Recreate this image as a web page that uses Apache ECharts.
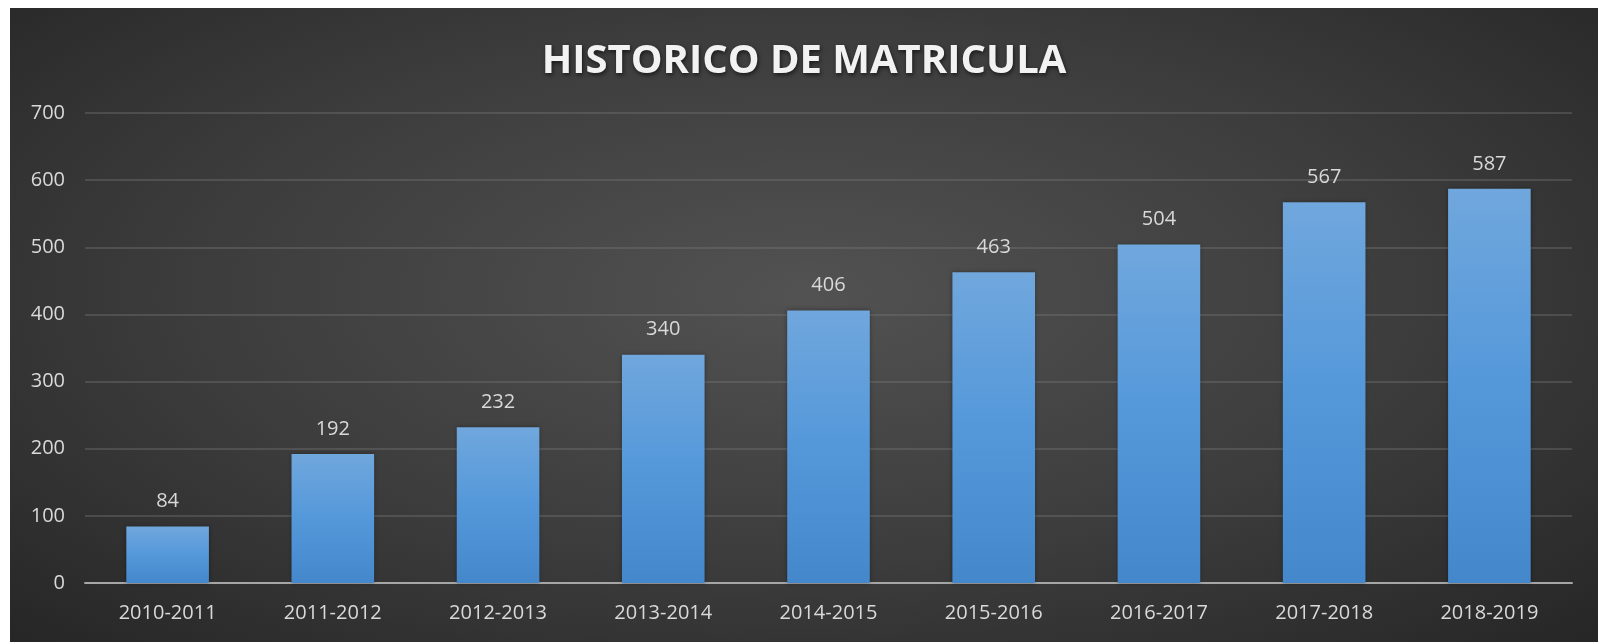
<!DOCTYPE html>
<html>
<head>
<meta charset="utf-8">
<script src="https://cdn.jsdelivr.net/npm/echarts@6/dist/echarts.min.js"></script>
<style>
    html, body { margin: 0; padding: 0; background: #ffffff; }
    #matricula {
        position: absolute;
        left: 10px; top: 8px;
        width: 1588px; height: 634px;
        background: radial-gradient(ellipse at 50% 45%, #525252 0%, #3c3c3c 55%, #262626 100%);
    }
</style>
</head>
<body>
<div id="matricula"></div>
<script>
// historico de matricula por ciclo escolar
var ciclos = ['2010-2011', '2011-2012', '2012-2013', '2013-2014', '2014-2015', '2015-2016', '2016-2017', '2017-2018', '2018-2019']
var alumnos = [84, 192, 232, 340, 406, 463, 504, 567, 587]
var ejeY = { min: 0, max: 700, interval: 100 }

var txt = '#d9d9d9'
var fuente = '"Open Sans", "DejaVu Sans", sans-serif'

var myChart = echarts.init(document.getElementById('matricula'))
myChart.setOption({
    backgroundColor: 'transparent',
    title: {
        text: 'HISTORICO DE MATRICULA',
        left: 'center',
        top: 29,
        textStyle: {
            color: '#f2f2f2',
            fontFamily: fuente,
            fontWeight: 'bold',
            fontSize: 40,
            textShadowColor: 'rgba(0,0,0,0.6)',
            textShadowBlur: 4,
            textShadowOffsetX: 1,
            textShadowOffsetY: 2
        }
    },
    grid: {
        left: 75,
        right: 26,
        top: 105,
        bottom: 59,
        containLabel: false
    },
    xAxis: {
        type: 'category',
        data: ciclos,
        axisLine: { lineStyle: { color: '#a6a6a6', width: 2 } },
        axisTick: { show: false },
        axisLabel: {
            color: txt,
            fontFamily: fuente,
            fontSize: 20,
            margin: 20
        }
    },
    yAxis: {
        type: 'value',
        min: ejeY.min,
        max: ejeY.max,
        interval: ejeY.interval,
        axisLine: { show: false },
        axisTick: { show: false },
        axisLabel: {
            color: txt,
            fontFamily: fuente,
            fontSize: 20,
            margin: 20
        },
        splitLine: { lineStyle: { color: 'rgba(120,120,120,0.5)', width: 1.5 } }
    },
    series: [{
        type: 'bar',
        data: alumnos,
        barWidth: '50%',
        itemStyle: {
            color: new echarts.graphic.LinearGradient(0, 0, 0, 1, [
                { offset: 0, color: '#70a7dd' },
                { offset: 0.5, color: '#5498da' },
                { offset: 1, color: '#4587cb' }
            ]),
            shadowColor: 'rgba(0,0,0,0.35)',
            shadowBlur: 4
        },
        label: {
            show: true,
            position: 'top',
            distance: 15,
            color: txt,
            fontFamily: fuente,
            fontSize: 20
        }
    }]
})
</script>
</body>
</html>
